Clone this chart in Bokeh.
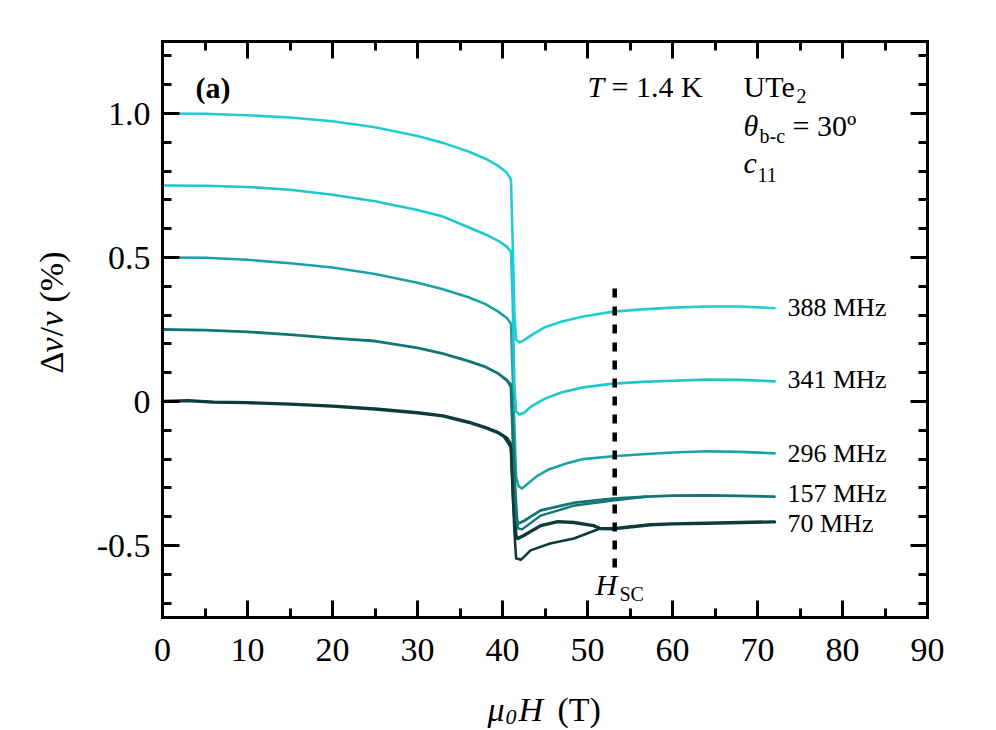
import math
from bokeh.plotting import figure
from bokeh.models import Range1d, FixedTicker, LinearAxis, Label
from bokeh.embed import file_html
from bokeh.resources import INLINE

FONT = "Liberation Serif"

# ---------------- data ----------------
freq_labels = ["388 MHz", "341 MHz", "296 MHz", "157 MHz", "70 MHz"]
colors = ["#20cdd0", "#1fc6ca", "#1aa2a4", "#137676", "#0b3b3b"]

h_388 = [0, 5, 10, 15, 20, 25, 30, 33, 36, 38, 39.5, 40.5, 41.0, 41.2, 41.4, 41.6, 42.0,
         42.5, 43.5, 45, 47, 49.5, 53, 56.5, 60, 64, 68, 72]
v_388 = [1.000, 0.999, 0.994, 0.986, 0.973, 0.952, 0.922, 0.898, 0.868, 0.843, 0.818, 0.795,
         0.770, 0.55, 0.30, 0.215, 0.205, 0.212, 0.232, 0.258, 0.278, 0.295, 0.312, 0.320,
         0.326, 0.330, 0.330, 0.324]

h_341 = [0, 5, 10, 15, 20, 25, 30, 33, 36, 38, 39.5, 40.5, 41.0, 41.2, 41.4, 41.6, 42.0,
         42.5, 43.5, 45, 47, 49.5, 53, 56.5, 60, 64, 68, 72]
v_341 = [0.750, 0.749, 0.745, 0.735, 0.718, 0.695, 0.665, 0.642, 0.605, 0.580, 0.558, 0.538,
         0.520, 0.35, 0.05, -0.035, -0.045, -0.040, -0.015, 0.010, 0.032, 0.049, 0.062, 0.068,
         0.072, 0.076, 0.075, 0.070]

h_296 = [0, 5, 10, 15, 20, 25, 30, 33, 36, 38, 39.5, 40.5, 41.0, 41.3, 41.6, 41.9, 42.3,
         43, 44, 45.5, 47.5, 49.5, 53, 56.5, 60, 64, 68, 72]
v_296 = [0.500, 0.499, 0.492, 0.480, 0.465, 0.443, 0.412, 0.390, 0.362, 0.338, 0.312, 0.290,
         0.270, 0.0, -0.26, -0.295, -0.302, -0.285, -0.260, -0.235, -0.215, -0.200, -0.190,
         -0.183, -0.177, -0.173, -0.175, -0.180]

h_157 = [0, 5, 10, 15, 20, 25, 30, 33, 36, 38, 39.5, 40.5, 41.0, 41.3, 41.6, 41.9, 42.5,
         44.5, 48.5, 53, 57, 60, 64, 68, 72]
v_157 = [0.250, 0.248, 0.242, 0.232, 0.220, 0.210, 0.186, 0.166, 0.140, 0.120, 0.097, 0.075,
         0.050, -0.20, -0.41, -0.424, -0.415, -0.378, -0.351, -0.337, -0.330, -0.327, -0.326,
         -0.328, -0.330]
h_157b = [40.0, 41.0, 41.5, 41.8, 42.3, 44.5, 48.5, 53, 57]
v_157b = [0.085, 0.060, -0.30, -0.440, -0.444, -0.396, -0.361, -0.344, -0.330]

h_70 = [0, 3, 6, 10, 15, 20, 25, 30, 33, 36, 38, 39.5, 40.5, 41.0, 41.3, 41.6, 41.8, 42.5,
        44.5, 46.5, 48.4, 50.7, 51.5, 53, 57.4, 60, 64, 68, 72]
v_70 = [0.000, 0.003, -0.002, -0.004, -0.009, -0.016, -0.026, -0.039, -0.050, -0.072, -0.091,
        -0.108, -0.127, -0.150, -0.350, -0.470, -0.476, -0.465, -0.431, -0.417, -0.420, -0.431,
        -0.441, -0.442, -0.428, -0.425, -0.423, -0.420, -0.418]
h_70b = [40.0, 41.0, 41.4, 41.6, 42.2, 43.3, 45.6, 48.4, 51.5, 53.0]
v_70b = [-0.115, -0.160, -0.450, -0.545, -0.549, -0.517, -0.493, -0.476, -0.441, -0.442]

h_sc = 53.2
hsc_top, hsc_bottom = 0.392, -0.583

x_major = [0, 10, 20, 30, 40, 50, 60, 70, 80, 90]
x_minor = [5, 15, 25, 35, 45, 55, 65, 75, 85]
y_major = [-0.5, 0, 0.5, 1.0]
y_minor = [-0.7, -0.6, -0.4, -0.3, -0.2, -0.1, 0.1, 0.2, 0.3, 0.4, 0.6, 0.7, 0.8, 0.9, 1.1, 1.2]
y_tick_text = {-0.5: "-0.5", 0: "0", 0.5: "0.5", 1.0: "1.0"}

# ---------------- layout ----------------
X_MIN, X_MAX = 0, 90          # axis extents
Y_MIN, Y_MAX = -0.75, 1.25
W, H = 980, 730
LEFT, TOP = 162, 41           # pixel position of the axes box in the canvas
FW, FH = 765, 576             # pixel size of the axes box
XS = FW / (X_MAX - X_MIN)
YS = FH / (Y_MAX - Y_MIN)

# the frame covers the whole canvas; axes are pinned at the box edges so that
# the titles can be drawn as frame annotations
x_range = Range1d(X_MIN - LEFT / XS, X_MIN + (W - LEFT) / XS)
y_range = Range1d(Y_MAX - (H - TOP) / YS, Y_MAX + TOP / YS)

p = figure(width=W, height=H, output_backend="svg", toolbar_location=None,
           x_range=x_range, y_range=y_range,
           min_border_left=0, min_border_top=0, min_border_right=0, min_border_bottom=0)
p.title.visible = False
p.outline_line_color = None
p.xgrid.visible = False
p.ygrid.visible = False
p.background_fill_color = "white"
p.border_fill_color = "white"


def px_x(px):
    return X_MIN + (px - LEFT) / XS


def px_y(py):
    return Y_MAX - (py - TOP) / YS


def style_axis(ax, show_labels, ticks, minor, loc, bounds):
    ax.ticker = FixedTicker(ticks=ticks, minor_ticks=minor)
    ax.fixed_location = loc
    ax.bounds = bounds
    ax.axis_line_width = 3
    ax.axis_line_color = "black"
    ax.axis_line_cap = "square"
    ax.major_tick_line_width = 3
    ax.minor_tick_line_width = 3
    ax.major_tick_line_color = "black"
    ax.minor_tick_line_color = "black"
    ax.major_tick_in = 17
    ax.major_tick_out = 0
    ax.minor_tick_in = 9
    ax.minor_tick_out = 0
    ax.axis_label = None
    ax.major_label_text_font = FONT
    ax.major_label_text_color = "black"
    if show_labels:
        ax.major_label_text_font_size = "34px"
    else:
        ax.major_label_overrides = {t: "" for t in ticks}
        ax.major_label_text_font_size = "10px"
        ax.major_label_standoff = 0


for ax in p.xaxis:
    style_axis(ax, True, x_major, x_minor, Y_MIN, (X_MIN, X_MAX))
    ax.major_label_standoff = 21
for ax in p.yaxis:
    style_axis(ax, True, y_major, y_minor, X_MIN, (Y_MIN, Y_MAX))
    ax.major_label_overrides = y_tick_text
    ax.major_label_standoff = 12

top_ax = LinearAxis()
right_ax = LinearAxis()
style_axis(top_ax, False, x_major, x_minor, Y_MAX, (X_MIN, X_MAX))
style_axis(right_ax, False, y_major, y_minor, X_MAX, (Y_MIN, Y_MAX))
p.add_layout(top_ax, "above")
p.add_layout(right_ax, "right")

# ---------------- curves ----------------
series = [(h_388, v_388), (h_341, v_341), (h_296, v_296), (h_157, v_157), (h_70, v_70)]
widths = [2.6, 2.6, 2.6, 2.8, 3.4]
for (hh, vv), c, w in reversed(list(zip(series, colors, widths))):
    p.line(hh, vv, line_color=c, line_width=w, line_join="round", line_cap="round")
p.line(h_157b, v_157b, line_color=colors[3], line_width=2.4, line_join="round")
p.line(h_70b, v_70b, line_color=colors[4], line_width=2.6, line_join="round")

# H_SC dashed line
p.line([h_sc, h_sc], [hsc_top, hsc_bottom], line_color="black", line_width=4.5,
       line_dash="9 9")


# ---------------- texts ----------------
MID = 0.34   # distance from baseline to the middle of the text box, in em


def lab(px, py, text, size, style="normal", angle=0.0):
    """px, py: start of the text's baseline in canvas pixels."""
    s = float(size.replace("px", ""))
    if angle == 0.0:
        ax_, ay_ = px, py - MID * s
    else:  # rotated by +90 deg: the text's "up" points to the left
        ax_, ay_ = px - MID * s, py
    p.add_layout(Label(x=px_x(ax_), y=px_y(ay_), text=text, text_font=FONT,
                       text_font_size=size, text_font_style=style, text_color="black",
                       text_align="left", text_baseline="middle", angle=angle))


label_px_y = [316, 388, 462, 502, 532]
for t, ly in zip(freq_labels, label_px_y):
    lab(787, ly, t, "26px")

lab(195, 97, "(a)", "30px", "bold")
lab(587, 96, "T", "30px", "italic")
lab(611, 96, "= 1.4 K", "30px")
lab(743, 96, "UTe", "30px")
lab(796, 102, "2", "20px")
lab(743, 135, "θ", "30px", "italic")
lab(759, 142, "b-c", "20px")
lab(792, 135, "= 30º", "30px")
lab(743, 172, "c", "30px", "italic")
lab(757, 181, "11", "20px")
lab(595, 594, "H", "30px", "italic")
lab(619, 600, "SC", "20px")

# x axis title  mu_0 H (T)
lab(487, 721, "μ", "34px", "italic")
lab(505, 724, "0", "22px", "italic")
lab(518, 721, "H", "34px", "italic")
lab(557, 721, "(T)", "34px")

# y axis title  Δν/ν (%) rotated
ang = math.pi / 2
bx = 63
lab(bx, 373, "Δ", "34px", angle=ang)
lab(bx, 352, "ν", "34px", "italic", angle=ang)
lab(bx, 336, "/", "34px", angle=ang)
lab(bx, 326, "ν", "34px", "italic", angle=ang)
lab(bx, 302, "(%)", "34px", angle=ang)

open("out.html", "w").write(file_html(p, INLINE))
